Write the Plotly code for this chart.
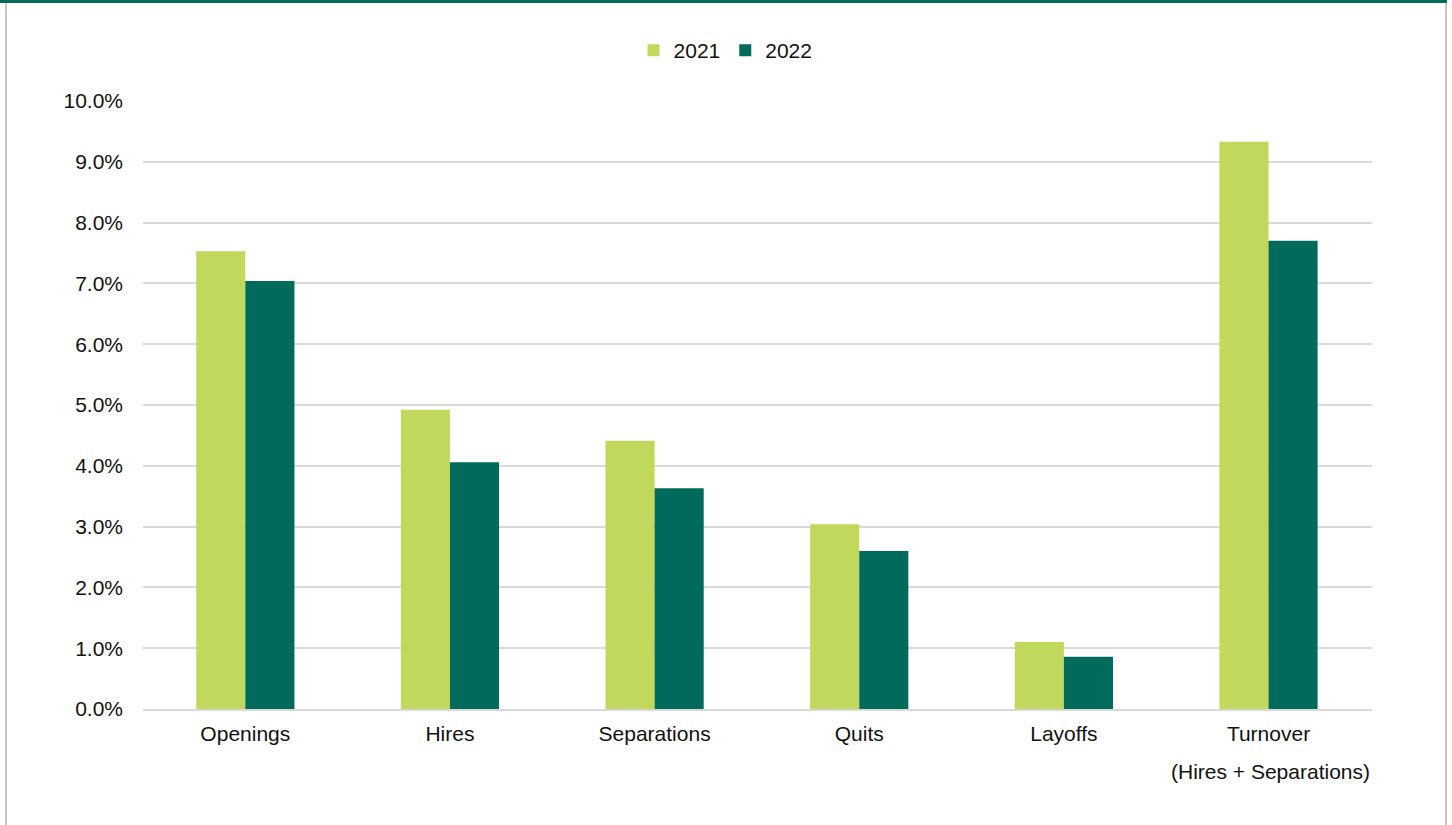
import plotly.graph_objects as go

# Job market rates by category
categories = ["Openings", "Hires", "Separations", "Quits", "Layoffs", "Turnover"]
rate_2021 = [7.53, 4.92, 4.41, 3.04, 1.10, 9.33]
rate_2022 = [7.04, 4.06, 3.63, 2.60, 0.86, 7.70]
y_ticks = [0, 1, 2, 3, 4, 5, 6, 7, 8, 9, 10]
y_tick_labels = ["0.0%", "1.0%", "2.0%", "3.0%", "4.0%", "5.0%",
                 "6.0%", "7.0%", "8.0%", "9.0%", "10.0%"]

LIME = "#C0D85B"
TEAL = "#006B5B"
FONT = "Liberation Sans, Arial, sans-serif"
FS = 21

fig = go.Figure()
fig.add_trace(go.Bar(name="2021", x=categories, y=rate_2021, marker_color=LIME,
                     marker_line_width=0))
fig.add_trace(go.Bar(name="2022", x=categories, y=rate_2022, marker_color=TEAL,
                     marker_line_width=0))

fig.update_layout(
    width=1452, height=825,
    margin=dict(l=143, r=80, t=101, b=116),
    paper_bgcolor="white", plot_bgcolor="white",
    barmode="group", bargap=0.52, bargroupgap=0,
    font=dict(family=FONT, size=FS, color="#111111"),
    legend=dict(orientation="h", x=0.474, xanchor="center", y=1.083, yanchor="middle",
                font=dict(size=FS), itemwidth=30, traceorder="normal"),
    xaxis=dict(showgrid=False, showline=True, linecolor="#d9d9d9", linewidth=2,
               ticks="", tickfont=dict(size=FS), ticklabelstandoff=5),
    yaxis=dict(range=[0, 10], tickvals=y_ticks, ticktext=y_tick_labels,
               showgrid=True, gridcolor="#d9d9d9", gridwidth=2,
               zeroline=False, showline=False, ticks="",
               tickfont=dict(size=FS), ticklabelstandoff=19),
    showlegend=True,
)

# Second line of the Turnover label
fig.add_annotation(x="Turnover", xref="x", y=-0.102, yref="paper",
                   text="(Hires + Separations)", showarrow=False,
                   font=dict(size=FS, family=FONT, color="#111111"),
                   yanchor="middle", xshift=2)

# Frame: green top rule and grey side borders
fig.add_shape(type="line", xref="paper", yref="paper",
              x0=(0 - 143) / 1229, x1=(1447 - 143) / 1229,
              y0=(709 - 1.5) / 608, y1=(709 - 1.5) / 608,
              line=dict(color=TEAL, width=3))
fig.add_shape(type="line", xref="paper", yref="paper",
              x0=(6 - 143) / 1229, x1=(6 - 143) / 1229,
              y0=(709 - 3) / 608, y1=(709 - 830) / 608,
              line=dict(color="#c8c8c8", width=2))
fig.add_shape(type="line", xref="paper", yref="paper",
              x0=(1446 - 143) / 1229, x1=(1446 - 143) / 1229,
              y0=(709 - 3) / 608, y1=(709 - 830) / 608,
              line=dict(color="#c8c8c8", width=2))

fig.write_html("out.html")
